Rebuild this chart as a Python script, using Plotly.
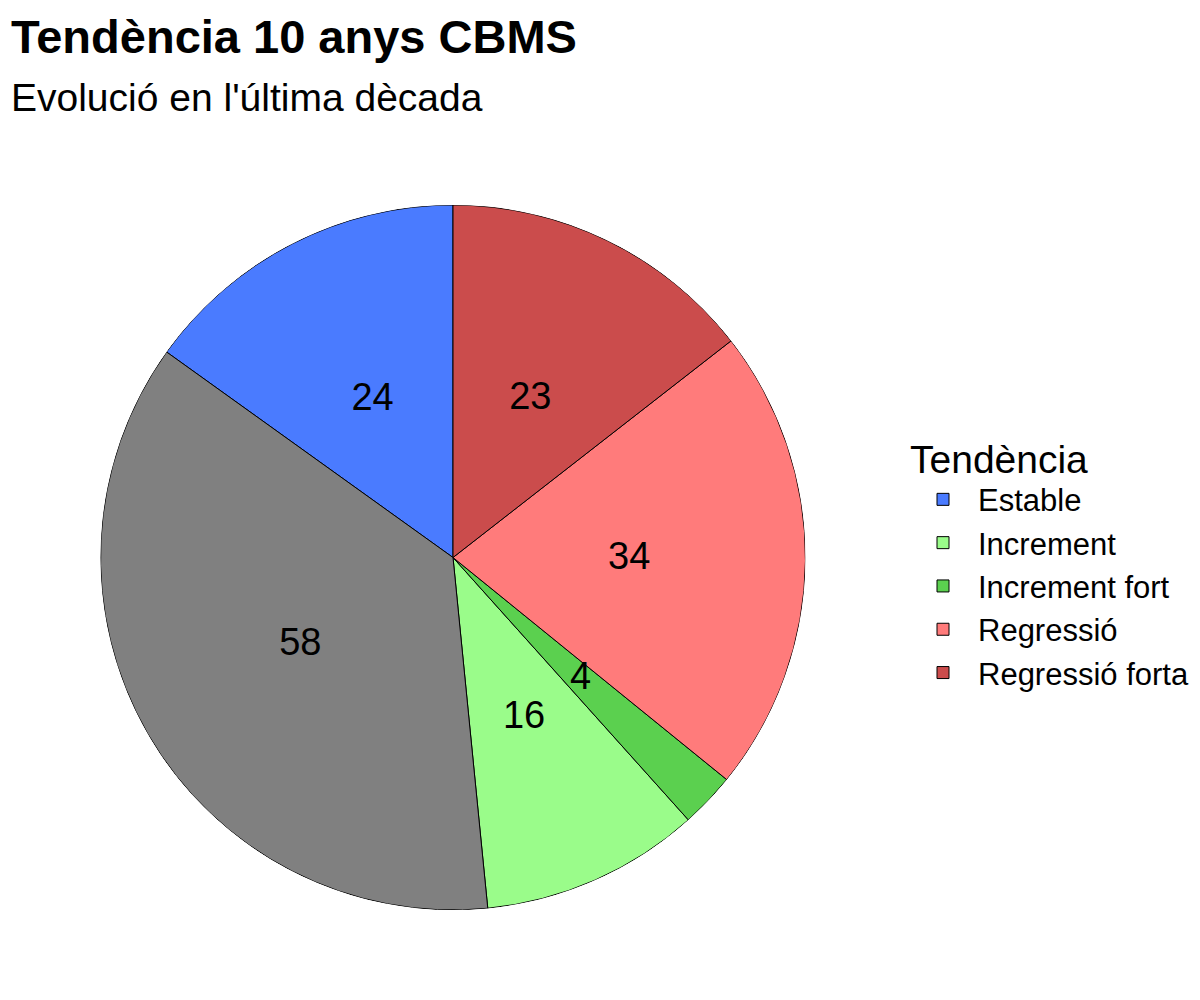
"""Pie chart: Tendència 10 anys CBMS."""

import numpy as np
import plotly.graph_objects as go

# slices in clockwise order from 12 o'clock
labels = ["Regressió forta", "Regressió", "Increment fort", "Increment", "NA", "Estable"]
values = [23, 34, 4, 16, 58, 24]
colors = ["#CB4C4C", "#FF7B7B", "#5BD04F", "#9AFC8A", "#808080", "#4A7BFF"]

# legend order (NA not shown)
legend_order = ["Estable", "Increment", "Increment fort", "Regressió", "Regressió forta"]

font_family = "Liberation Sans, Arial, sans-serif"
domain = dict(x=[92 / 1200, 798 / 1200], y=[0.098, 0.803])

# slice widths and mid angles, in degrees
vals = np.array(values, dtype=float)
widths = vals / vals.sum() * 360
mid_theta = np.cumsum(widths) - widths / 2

fig = go.Figure()

draw_order = legend_order + ["NA"]
for name in draw_order:
    i = labels.index(name)
    fig.add_trace(
        go.Barpolar(
            r=[1],
            theta=[mid_theta[i]],
            width=[widths[i]],
            name=name,
            marker=dict(color=colors[i], line=dict(color="black", width=1)),
            showlegend=name != "NA",
            hovertemplate=f"{name}: {values[i]}<extra></extra>",
        )
    )

# value labels at half radius
fig.add_trace(
    go.Scatterpolar(
        r=[0.5] * len(values),
        theta=mid_theta,
        mode="text",
        text=[str(v) for v in values],
        textfont=dict(size=38, color="black", family=font_family),
        hoverinfo="skip",
        showlegend=False,
    )
)

fig.update_layout(
    width=1200,
    height=1000,
    margin=dict(l=0, r=0, t=0, b=0),
    paper_bgcolor="white",
    plot_bgcolor="white",
    font=dict(family=font_family, color="black"),
    polar=dict(
        domain=domain,
        bgcolor="rgba(0,0,0,0)",
        bargap=0,
        radialaxis=dict(range=[0, 1], visible=False, showgrid=False),
        angularaxis=dict(
            rotation=90, direction="clockwise", visible=False, showgrid=False
        ),
    ),
    annotations=[
        dict(
            text="<b>Tendència 10 anys CBMS</b>",
            font=dict(size=47, family=font_family, color="black"),
            x=0.001, xref="paper", xanchor="left",
            y=0.972, yref="paper", yanchor="middle",
            showarrow=False,
        ),
        dict(
            text="Evolució en l'última dècada",
            font=dict(size=39, family=font_family, color="black"),
            x=0.001, xref="paper", xanchor="left",
            y=0.910, yref="paper", yanchor="middle",
            showarrow=False,
        ),
    ],
    legend=dict(
        title=dict(text="Tendència", font=dict(size=39)),
        font=dict(size=31),
        x=0.75,
        xanchor="left",
        y=0.447,
        yanchor="middle",
        itemwidth=60,
        traceorder="normal",
    ),
)

fig.write_html("out.html")
